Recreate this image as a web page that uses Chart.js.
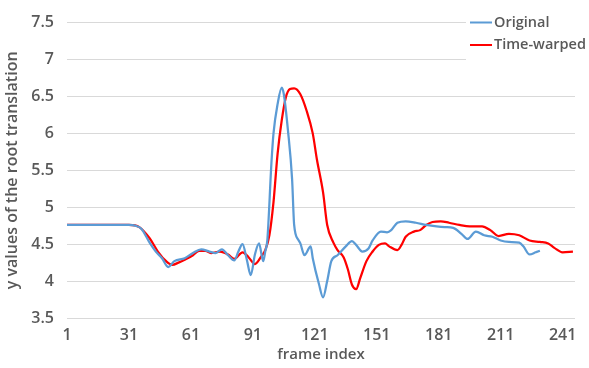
<!DOCTYPE html>
<html>
<head>
<meta charset="utf-8">
<script src="https://cdn.jsdelivr.net/npm/chart.js@4/dist/chart.umd.min.js"></script>
<style>
  html, body { margin: 0; padding: 0; background: #fff; }
  #wrap { width: 589px; height: 368px; }
</style>
</head>
<body>
<div id="wrap"><canvas id="c" width="589" height="368"></canvas></div>
<script>
// Root translation (y) per frame, original motion
const origFrames = [1, 31, 34, 37, 41, 44, 47, 50, 53, 58, 62, 66, 70, 73, 76, 79, 82, 84, 86, 88, 90, 92, 94, 96, 97, 98, 100, 101, 103, 105, 106, 108, 110, 111, 113, 114, 116, 119, 120, 123, 125, 127, 129, 132, 136, 139, 141, 144, 147, 149, 153, 156, 158, 161, 165, 170, 175, 180, 184, 188, 192, 195, 199, 203, 207, 211, 215, 220, 222, 225, 228, 230];
const origValues = [4.76, 4.76, 4.75, 4.71, 4.52, 4.40, 4.31, 4.19, 4.27, 4.31, 4.38, 4.43, 4.40, 4.38, 4.43, 4.35, 4.28, 4.40, 4.50, 4.30, 4.08, 4.36, 4.51, 4.27, 4.40, 4.55, 5.60, 6.00, 6.40, 6.62, 6.53, 6.04, 5.38, 4.76, 4.56, 4.51, 4.35, 4.47, 4.31, 3.96, 3.78, 4.00, 4.27, 4.35, 4.47, 4.54, 4.49, 4.40, 4.44, 4.55, 4.67, 4.66, 4.69, 4.79, 4.81, 4.79, 4.76, 4.74, 4.73, 4.72, 4.64, 4.57, 4.67, 4.62, 4.60, 4.55, 4.53, 4.52, 4.47, 4.36, 4.39, 4.41];

// Root translation (y) per frame after time warping
const warpFrames = [1, 31, 36, 41, 45, 49, 52, 55, 58, 62, 65, 68, 71, 75, 79, 82, 86, 89, 92, 95, 97, 99, 101, 103, 105, 107, 109, 111, 114, 117, 120, 122, 125, 127, 130, 132, 135, 137, 139, 141, 143, 146, 149, 152, 155, 157, 161, 163, 165, 169, 172, 175, 178, 182, 186, 191, 196, 202, 206, 210, 215, 220, 225, 230, 234, 237, 241, 246];
const warpValues = [4.76, 4.76, 4.73, 4.58, 4.40, 4.27, 4.22, 4.25, 4.29, 4.35, 4.41, 4.41, 4.38, 4.40, 4.36, 4.30, 4.39, 4.32, 4.23, 4.33, 4.42, 4.62, 5.07, 5.73, 6.18, 6.49, 6.60, 6.61, 6.53, 6.31, 6.00, 5.65, 5.20, 4.76, 4.52, 4.42, 4.32, 4.16, 3.95, 3.89, 4.04, 4.27, 4.40, 4.49, 4.51, 4.47, 4.42, 4.49, 4.60, 4.67, 4.69, 4.76, 4.80, 4.81, 4.79, 4.76, 4.74, 4.74, 4.69, 4.61, 4.64, 4.62, 4.55, 4.53, 4.51, 4.45, 4.39, 4.40];

// Frame numbers shown on the horizontal axis
const xTickFrames = [1, 31, 61, 91, 121, 151, 181, 211, 241];

const FONT = "'Open Sans', 'Noto Sans', sans-serif";
const TEXT = '#595959';

const toPoints = (xs, ys) => xs.map((x, i) => ({ x, y: ys[i] }));

// Legend drawn in the top-right corner on a white box
const cornerLegend = {
  id: 'cornerLegend',
  afterDraw(chart) {
    const ctx = chart.ctx;
    ctx.save();
    ctx.fillStyle = '#fff';
    ctx.fillRect(466, 0, 123, 62);
    ctx.font = '600 14.5px ' + FONT;
    ctx.textBaseline = 'middle';
    ctx.textAlign = 'left';
    chart.data.datasets.forEach((ds, i) => {
      const y = 22.5 + i * 22.5;
      ctx.strokeStyle = ds.borderColor;
      ctx.lineWidth = 2;
      ctx.beginPath();
      ctx.moveTo(470, y);
      ctx.lineTo(492, y);
      ctx.stroke();
      ctx.fillStyle = TEXT;
      ctx.fillText(ds.label, 494, y);
    });
    ctx.restore();
  }
};

new Chart(document.getElementById('c'), {
  type: 'line',
  data: {
    datasets: [
      {
        label: 'Original',
        data: toPoints(origFrames, origValues),
        borderColor: '#5B9BD5',
        borderWidth: 2.25,
        pointRadius: 0,
        cubicInterpolationMode: 'monotone'
      },
      {
        label: 'Time-warped',
        data: toPoints(warpFrames, warpValues),
        borderColor: '#FF0000',
        borderWidth: 2.25,
        pointRadius: 0,
        cubicInterpolationMode: 'monotone'
      }
    ]
  },
  options: {
    responsive: false,
    animation: false,
    devicePixelRatio: 1,
    layout: { padding: { top: 17, right: 14, left: 0, bottom: 0 } },
    plugins: {
      legend: { display: false },
      tooltip: { enabled: false }
    },
    scales: {
      x: {
        type: 'linear',
        min: 1,
        max: 247,
        afterBuildTicks(scale) {
          scale.ticks = xTickFrames.map(v => ({ value: v }));
        },
        afterFit(scale) { scale.height = 50; },
        grid: { display: false, drawTicks: false },
        border: { display: false },
        ticks: {
          autoSkip: false,
          maxRotation: 0,
          padding: 8,
          color: TEXT,
          font: { family: FONT, size: 16, weight: '600' }
        },
        title: {
          display: true,
          text: 'frame index',
          color: TEXT,
          padding: { top: 0, bottom: 4 },
          font: { family: FONT, size: 15, weight: '600' }
        }
      },
      y: {
        min: 3.5,
        max: 7.5,
        afterFit(scale) { scale.width = 67; },
        grid: { color: '#D9D9D9', lineWidth: 1, drawTicks: false },
        border: { display: false },
        ticks: {
          stepSize: 0.5,
          padding: 13,
          color: TEXT,
          font: { family: FONT, size: 16, weight: '600' },
          callback: v => String(Math.round(v * 10) / 10)
        },
        title: {
          display: true,
          text: 'y values of the root translation',
          color: TEXT,
          padding: { top: 3, bottom: 0 },
          font: { family: FONT, size: 16, weight: '600' }
        }
      }
    }
  },
  plugins: [cornerLegend]
});
</script>
</body>
</html>
